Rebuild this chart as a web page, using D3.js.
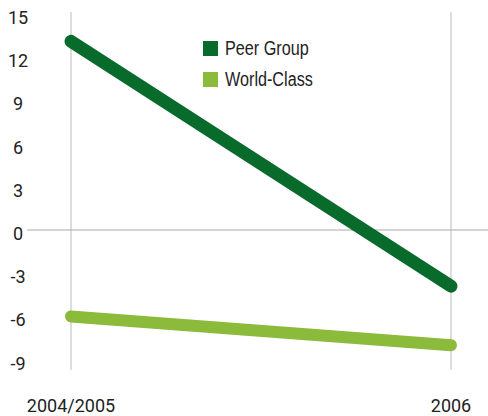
<html>
<head>
  <script src="https://d3js.org/d3.v7.min.js"></script>
  <style>
    body { margin: 0; background: #fff; }
    .tick-label { font-family: "Roboto", sans-serif; font-size: 18px; fill: #222; }
    .legend text { font-family: "Liberation Sans", Arial, sans-serif; font-size: 20px; fill: #222; }
  </style>
</head>
<body>
  <svg id="chart" width="488" height="416"></svg>
  <script>
    const years = ["2004/2005", "2006"];
    const seriesNames = ["Peer Group", "World-Class"];
    const peerGroup = [13.1, -3.9];
    const worldClass = [-6.0, -8.0];
    const yTicks = [15, 12, 9, 6, 3, 0, -3, -6, -9];
    const colors = ["#086b2b", "#8cba3a"];

    const svg = d3.select("svg#chart");

    const xScale = d3.scalePoint().domain(years).range([71, 451]);
    const yScale = d3.scaleLinear().domain([-9, 15]).range([359.6, 14]);

    // gridlines
    years.forEach(y => {
      svg.append("line")
        .attr("x1", xScale(y)).attr("x2", xScale(y))
        .attr("y1", 12).attr("y2", 370)
        .attr("stroke", "#bbb").attr("stroke-width", 1);
    });
    svg.append("line")
      .attr("x1", 27).attr("x2", 488)
      .attr("y1", yScale(0)).attr("y2", yScale(0))
      .attr("stroke", "#aaa").attr("stroke-width", 1);

    // y labels
    yTicks.forEach(t => {
      svg.append("text")
        .attr("class", "tick-label")
        .attr("x", 18)
        .attr("y", yScale(t) + 10)
        .attr("text-anchor", "middle")
        .text(t);
    });

    // x labels
    years.forEach(y => {
      svg.append("text")
        .attr("class", "tick-label")
        .attr("x", xScale(y))
        .attr("y", 412)
        .attr("text-anchor", "middle")
        .text(y);
    });

    // lines
    const line = d3.line()
      .x((d, i) => xScale(years[i]))
      .y(d => yScale(d));

    [peerGroup, worldClass].forEach((vals, i) => {
      svg.append("path")
        .attr("d", line(vals))
        .attr("fill", "none")
        .attr("stroke", colors[i])
        .attr("stroke-width", i == 0 ? 13 : 12)
        .attr("stroke-linecap", "round");
    });

    // legend (narrow text, squeezed horizontally)
    const legend = svg.append("g").attr("class", "legend");
    seriesNames.forEach((name, i) => {
      legend.append("rect")
        .attr("x", 203).attr("y", 41 + i * 31)
        .attr("width", 15).attr("height", 15)
        .attr("fill", colors[i]);
      legend.append("text")
        .attr("transform", "translate(225," + (55 + i * 31) + ") scale(0.81,1)")
        .text(name);
    });
  </script>
</body>
</html>
